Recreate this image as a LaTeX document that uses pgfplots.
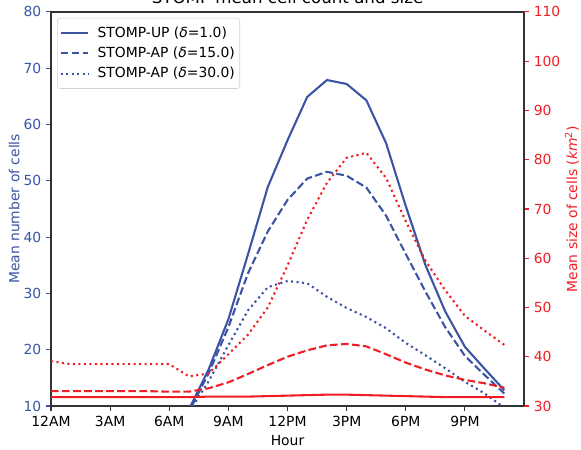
\documentclass[border=0pt]{standalone}
\usepackage{fontspec}
\setmainfont{DejaVu Sans}
\usepackage{pgfplots}
\usepackage{pgfplotstable}
\pgfplotsset{compat=1.18}
\definecolor{cblue}{RGB}{59,84,164}
\definecolor{cred}{RGB}{240,30,36}

\pgfplotstableread{
hour up ap15 ap30
0 5 5 5
1 5 5 5
2 5 5 5
3 5 5 5
4 5 5 5
5 5 5 5
6 5 5 5
7 9.4 9.0 8.8
8 16.5 15.8 14.4
9 25.4 24.0 20.8
10 37.0 33.6 27.0
11 48.9 41.0 31.1
12 57.2 46.6 32.2
13 64.9 50.4 31.8
14 67.9 51.6 29.4
15 67.2 50.9 27.4
16 64.3 48.8 25.8
17 56.7 43.8 23.8
18 45.5 37.0 21.2
19 35.0 30.3 19.0
20 26.8 24.0 16.7
21 20.5 18.9 14.3
22 16.6 15.5 12.2
23 12.8 12.2 9.7
}\counttab

\pgfplotstableread{
hour up ap15 ap30
0 31.8 33.0 39.1
1 31.8 33.0 38.5
2 31.8 33.0 38.5
3 31.8 33.0 38.5
4 31.8 33.0 38.5
5 31.8 33.0 38.5
6 31.8 32.9 38.5
7 31.8 32.9 36.0
8 31.9 33.6 36.6
9 31.9 34.8 40.5
10 31.9 36.5 44.5
11 32.0 38.3 50.0
12 32.1 40.0 58.5
13 32.2 41.3 67.8
14 32.3 42.3 75.3
15 32.3 42.6 80.4
16 32.2 42.1 81.4
17 32.1 40.5 76.3
18 32.0 38.8 67.5
19 31.9 37.4 59.5
20 31.8 36.2 53.5
21 31.8 35.3 48.3
22 31.8 34.6 45.3
23 31.8 33.7 42.4
}\sizetab

\pgfplotsset{
  common/.style={
    scale only axis, width=340.6pt, height=283.7pt,
    xmin=0, xmax=24,
    tick align=outside, major tick length=3.5pt,
    axis line style={black!80, line width=1pt},
    /pgf/number format/assume math mode=true,
    tick label style={font=\fontsize{10}{12}\selectfont},
    label style={font=\fontsize{10}{12}\selectfont},
  },
  mdash/.style={dash pattern=on 5.55pt off 2.4pt},
  mdot/.style={dash pattern=on 1.5pt off 2.475pt},
}

\begin{document}
\begin{tikzpicture}
\begin{axis}[common, name=ax,
  ymin=10, ymax=80, ytick={10,20,...,80},
  xtick={0,3,...,21},
  xticklabels={12AM,3AM,6AM,9AM,12PM,3PM,6PM,9PM},
  xtick pos=bottom, ytick pos=left,
  x tick style={black!80, line width=0.8pt},
  y tick style={cblue, line width=0.8pt},
  y tick label style={text=cblue},
  xlabel={Hour},
  ylabel={Mean number of cells},
  ylabel style={text=cblue, at={(axis description cs:-0.078,0.5)}, anchor=center},
  legend cell align=left,
  legend style={at={(0.013,0.985)}, anchor=north west, draw=black!18,
    rounded corners=2pt, fill=white, font=\fontsize{10}{12}\selectfont,
    row sep=1.5pt, inner xsep=1.5pt, inner ysep=4.2pt},
  legend image code/.code={\draw[#1] (0pt,0pt) -- (20pt,0pt); \path (24pt,0pt);},
]
\addplot[cblue, line width=1.5pt] table[x=hour, y=up] {\counttab};
\addlegendentry{STOMP-UP (\textit{δ}=1.0)}
\addplot[cblue, line width=1.5pt, mdash] table[x=hour, y=ap15] {\counttab};
\addlegendentry{STOMP-AP (\textit{δ}=15.0)}
\addplot[cblue, line width=1.5pt, mdot] table[x=hour, y=ap30] {\counttab};
\addlegendentry{STOMP-AP (\textit{δ}=30.0)}
\end{axis}
\begin{axis}[common,
  ymin=30, ymax=110, ytick={30,40,...,110},
  axis x line=none, axis y line*=right,
  y tick style={cred, line width=0.8pt},
  y tick label style={text=cred},
  ylabel={Mean size of cells (\textit{km}\textsuperscript{2})},
  ylabel style={text=cred, at={(axis description cs:1.101,0.5)}, anchor=center, rotate=0},
]
\addplot[cred, line width=1.5pt] table[x=hour, y=up] {\sizetab};
\addplot[cred, line width=1.5pt, mdash] table[x=hour, y=ap15] {\sizetab};
\addplot[cred, line width=1.5pt, mdot] table[x=hour, y=ap30] {\sizetab};
\end{axis}
\node[anchor=base, font=\fontsize{12}{14}\selectfont] at ([yshift=6pt]ax.north) {STOMP mean cell count and size};
\pgfresetboundingbox
\path ([xshift=-36.7pt, yshift=-31pt]ax.south west) rectangle ([xshift=41pt, yshift=8.6pt]ax.north east);
\end{tikzpicture}
\end{document}
